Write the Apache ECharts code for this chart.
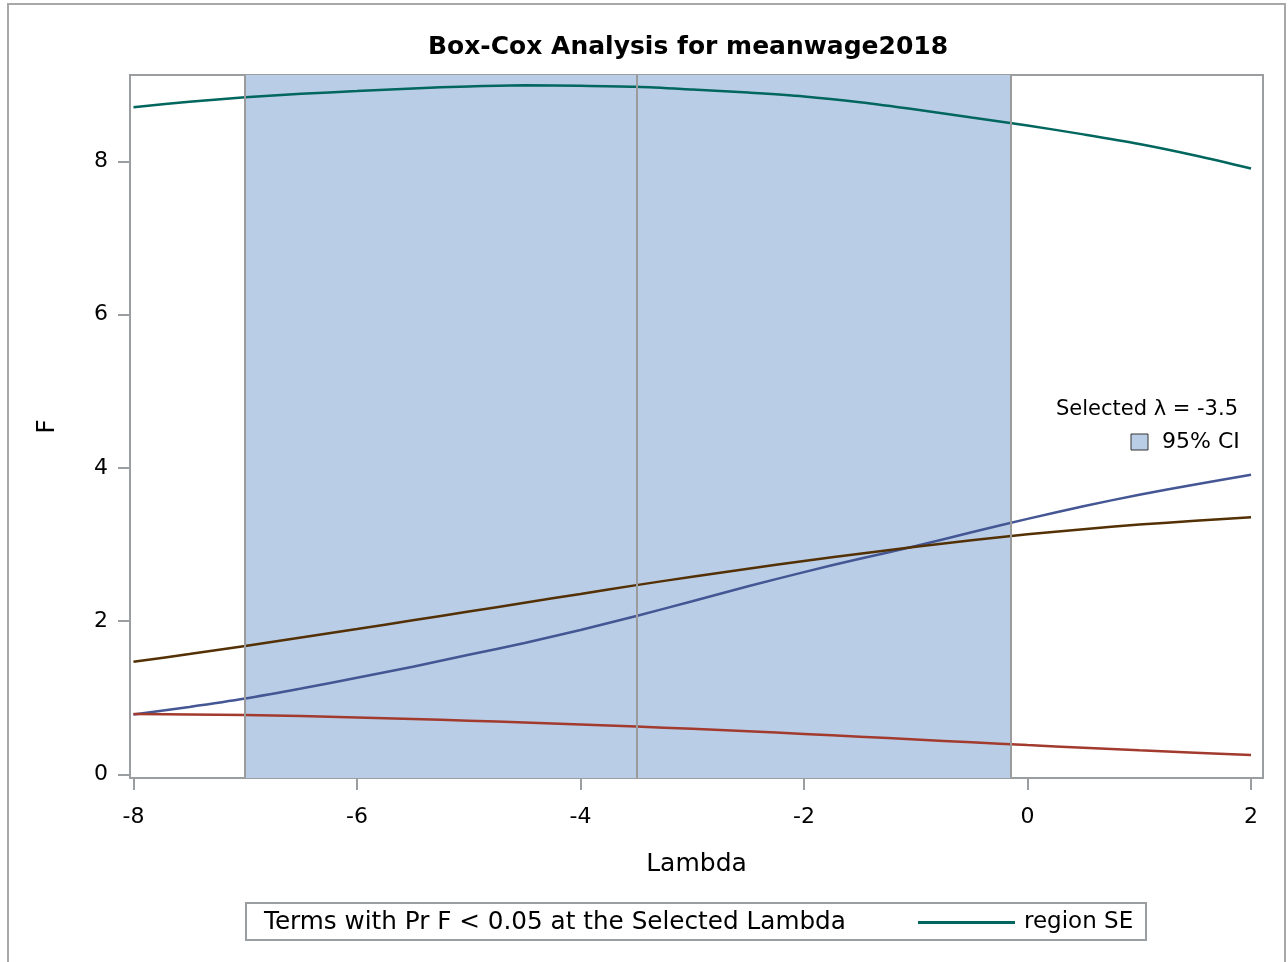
<!DOCTYPE html>
<html><head><meta charset="utf-8">
<script src="https://cdn.jsdelivr.net/npm/echarts@6/dist/echarts.min.js"></script>
<style>html,body{margin:0;padding:0;background:#fff}#c{width:1288px;height:962px}</style>
</head><body><div id="c"></div>
<script>
// ---- data ----
const lambdas  = [-8,-7.5,-7,-6.5,-6,-5.5,-5,-4.5,-4,-3.5,-3,-2.5,-2,-1.5,-1,-0.5,0,0.5,1,1.5,2];
const regionSE = [8.71,8.78,8.84,8.885,8.92,8.955,8.98,8.995,8.99,8.975,8.94,8.90,8.85,8.775,8.68,8.575,8.47,8.355,8.23,8.08,7.91];
const termBlue = [0.78,0.88,0.99,1.12,1.26,1.405,1.56,1.715,1.885,2.067,2.26,2.455,2.64,2.815,2.98,3.16,3.335,3.50,3.65,3.785,3.91];
const termBrown= [1.47,1.57,1.675,1.785,1.897,2.011,2.125,2.24,2.355,2.47,2.58,2.685,2.785,2.88,2.97,3.055,3.133,3.20,3.26,3.31,3.355];
const termRed  = [0.787,0.782,0.774,0.76,0.742,0.722,0.70,0.676,0.65,0.623,0.594,0.562,0.528,0.492,0.455,0.418,0.382,0.348,0.315,0.283,0.252];
const xTicks = [-8,-6,-4,-2,0,2];
const yTicks = [0,2,4,6,8];
const selectedLambda = -3.5;
const ciLower = -7.0;
const ciUpper = -0.15;
const titleText = 'Box-Cox Analysis for meanwage2018';
const legendNote = 'Terms with Pr F < 0.05 at the Selected Lambda';

const FONT = 'DejaVu Sans';
const AXIS = '#9a9ea1';
const pairs = arr => lambdas.map((l,i)=>[l,arr[i]]);

const chart = echarts.init(document.getElementById('c'), null, {renderer:'canvas'});
chart.setOption({
  animation:false,
  backgroundColor:'#fff',
  title:{text:titleText,left:428,top:35,padding:0,
    textStyle:{fontFamily:FONT,fontSize:25,fontWeight:'bold',color:'#000'}},
  grid:{left:130,right:25,top:75,bottom:184,show:true,borderColor:AXIS,borderWidth:2,backgroundColor:'#fff'},
  xAxis:{type:'value',min:-8.031,max:2.107,
    name:'Lambda',nameLocation:'middle',nameGap:74,
    nameTextStyle:{fontFamily:FONT,fontSize:25,color:'#000'},
    axisLine:{show:true,onZero:false,lineStyle:{color:AXIS,width:2}},
    axisTick:{show:true,customValues:xTicks,length:12,lineStyle:{color:AXIS,width:2}},
    axisLabel:{customValues:xTicks,fontFamily:FONT,fontSize:22,color:'#000',margin:28},
    splitLine:{show:false}},
  yAxis:{type:'value',min:-0.048,max:9.13,
    name:'F',nameLocation:'middle',nameGap:70,
    nameTextStyle:{fontFamily:FONT,fontSize:25,color:'#000'},
    axisLine:{show:true,onZero:false,lineStyle:{color:AXIS,width:2}},
    axisTick:{show:true,customValues:yTicks,length:12,lineStyle:{color:AXIS,width:2}},
    axisLabel:{customValues:yTicks,fontFamily:FONT,fontSize:22,color:'#000',margin:22},
    splitLine:{show:false}},
  legend:{data:['region SE'],left:913,top:906,icon:'rect',itemWidth:97,itemHeight:3,
    textStyle:{fontFamily:FONT,fontSize:23,color:'#000',padding:[0,0,0,4]}},
  graphic:[
    {type:'rect',shape:{x:8,y:4,width:1277,height:980},style:{fill:null,stroke:'#a8a8a8',lineWidth:2},silent:true},
    {type:'rect',shape:{x:246,y:903,width:900,height:37},style:{fill:null,stroke:'#9a9ea1',lineWidth:2},silent:true},
    {type:'text',left:264,top:910,style:{text:legendNote,font:'24.7px "DejaVu Sans"',fill:'#000'}},
    {type:'text',right:50,top:399,style:{text:'Selected \u03bb = -3.5',font:'21px "DejaVu Sans"',fill:'#000',align:'right'}},
    {type:'rect',shape:{x:1131,y:434,width:17,height:16},style:{fill:'#b9cee6',stroke:'#333',lineWidth:1}},
    {type:'text',left:1162,top:431,style:{text:'95% CI',font:'22px "DejaVu Sans"',fill:'#000'}}
  ],
  series:[
    {name:'CI',type:'line',data:[],z:1,silent:true,
      markArea:{silent:true,itemStyle:{color:'#b9cee6'},data:[[{xAxis:ciLower},{xAxis:ciUpper}]]},
      markLine:{silent:true,symbol:['none','none'],label:{show:false},
        lineStyle:{color:'#9b9b9b',width:2,type:'solid'},
        data:[{xAxis:ciLower},{xAxis:selectedLambda},{xAxis:ciUpper}]}},
    {name:'region SE',type:'line',data:pairs(regionSE),smooth:0.3,showSymbol:false,symbol:'none',z:3,
      itemStyle:{color:'#01665E'},lineStyle:{color:'#01665E',width:2.5}},
    {name:'Term 1',type:'line',data:pairs(termBlue),smooth:0.3,showSymbol:false,symbol:'none',z:3,
      itemStyle:{color:'#445694'},lineStyle:{color:'#445694',width:2.5}},
    {name:'Term 2',type:'line',data:pairs(termBrown),smooth:0.3,showSymbol:false,symbol:'none',z:3,
      itemStyle:{color:'#543005'},lineStyle:{color:'#543005',width:2.5}},
    {name:'Term 3',type:'line',data:pairs(termRed),smooth:0.3,showSymbol:false,symbol:'none',z:3,
      itemStyle:{color:'#A23A2E'},lineStyle:{color:'#A23A2E',width:2.5}}
  ]
});
</script></body></html>
